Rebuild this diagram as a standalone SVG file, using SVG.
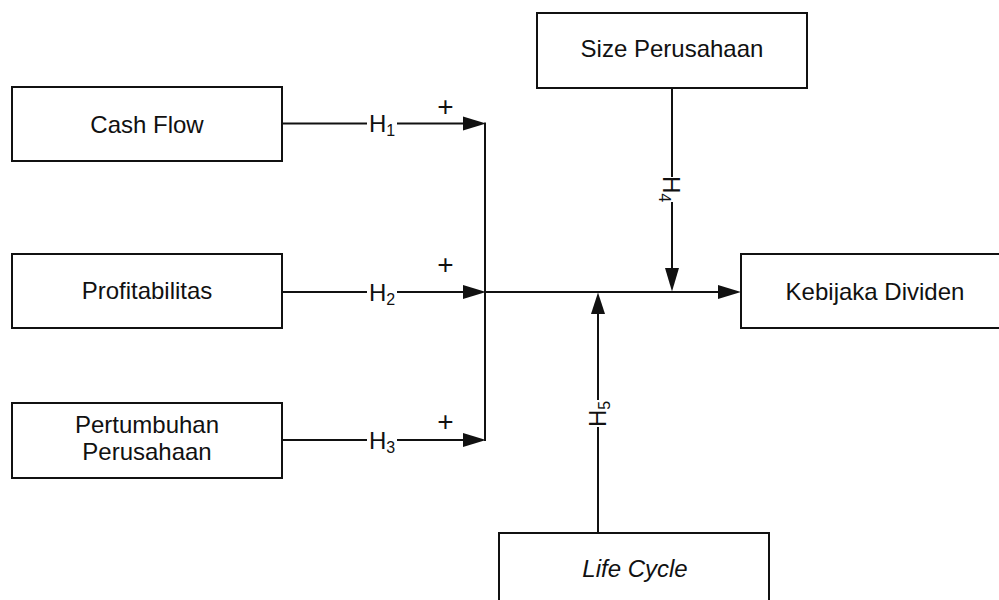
<svg xmlns="http://www.w3.org/2000/svg" width="999" height="600" viewBox="0 0 999 600">
<defs>
<style>
.box{fill:#fff;stroke:#111;stroke-width:2}
.lbl{font-family:"Liberation Sans",Arial,sans-serif;font-size:24px;fill:#111;text-anchor:middle}
.h{font-family:"Liberation Sans",Arial,sans-serif;font-size:24px;fill:#111}
.plus{font-family:"Liberation Sans",Arial,sans-serif;font-size:28px;fill:#111;text-anchor:middle}
.sub{font-size:16px}
.ln{stroke:#111;stroke-width:2;fill:none}
.ah{fill:#111}
</style>
</defs>
<rect width="999" height="600" fill="#fff"/>
<g id="connectors">
<!-- H1 -->
<line class="ln" x1="282" y1="123.5" x2="367" y2="123.5"/>
<line class="ln" x1="397" y1="123.5" x2="465" y2="123.5"/>
<polygon class="ah" points="463,116.5 486,123.5 463,130.5"/>
<text class="h" x="369" y="132">H<tspan class="sub" dy="4">1</tspan></text>
<text class="plus" x="445.5" y="116.4">+</text>
<!-- H2 -->
<line class="ln" x1="282" y1="292" x2="367" y2="292"/>
<line class="ln" x1="397" y1="292" x2="465" y2="292"/>
<polygon class="ah" points="463,285 486,292 463,299"/>
<text class="h" x="369" y="300.6">H<tspan class="sub" dy="4">2</tspan></text>
<text class="plus" x="445.5" y="274">+</text>
<!-- H3 -->
<line class="ln" x1="282" y1="440" x2="367" y2="440"/>
<line class="ln" x1="397" y1="440" x2="465" y2="440"/>
<polygon class="ah" points="463,433 486,440 463,447"/>
<text class="h" x="369" y="448.6">H<tspan class="sub" dy="4">3</tspan></text>
<text class="plus" x="445.5" y="431">+</text>
<!-- collector -->
<line class="ln" x1="485" y1="122.5" x2="485" y2="441"/>
<line class="ln" x1="485" y1="292" x2="721" y2="292"/>
<polygon class="ah" points="718,285 741,292 718,299"/>
<!-- H4 -->
<line class="ln" x1="672" y1="88" x2="672" y2="177"/>
<line class="ln" x1="672" y1="202" x2="672" y2="270"/>
<polygon class="ah" points="665,268 672,291.5 679,268"/>
<text class="h" transform="translate(663.4,176) rotate(90)">H<tspan class="sub" dy="4">4</tspan></text>
<!-- H5 -->
<line class="ln" x1="598" y1="533" x2="598" y2="427"/>
<line class="ln" x1="598" y1="400" x2="598" y2="312"/>
<polygon class="ah" points="591,314 598,292.5 605,314"/>
<text class="h" transform="translate(605.5,427) rotate(-90)">H<tspan class="sub" dy="4">5</tspan></text>
</g>
<g id="cashflow">
<rect class="box" x="12" y="87" width="270" height="74"/>
<text class="lbl" x="147" y="133">Cash Flow</text>
</g>
<g id="profitabilitas">
<rect class="box" x="12" y="254" width="270" height="74"/>
<text class="lbl" x="147" y="299">Profitabilitas</text>
</g>
<g id="pertumbuhan">
<rect class="box" x="12" y="403" width="270" height="75"/>
<text class="lbl" x="147" y="433">Pertumbuhan</text>
<text class="lbl" x="147" y="460">Perusahaan</text>
</g>
<g id="kebijakan">
<rect class="box" x="741" y="254" width="270" height="74"/>
<text class="lbl" x="875" y="300">Kebijaka Dividen</text>
</g>
<g id="size">
<rect class="box" x="537" y="13" width="270" height="75"/>
<text class="lbl" x="672" y="57">Size Perusahaan</text>
</g>
<g id="lifecycle">
<rect class="box" x="499" y="533" width="270" height="75"/>
<text class="lbl" x="635" y="577" font-style="italic">Life Cycle</text>
</g>
</svg>
